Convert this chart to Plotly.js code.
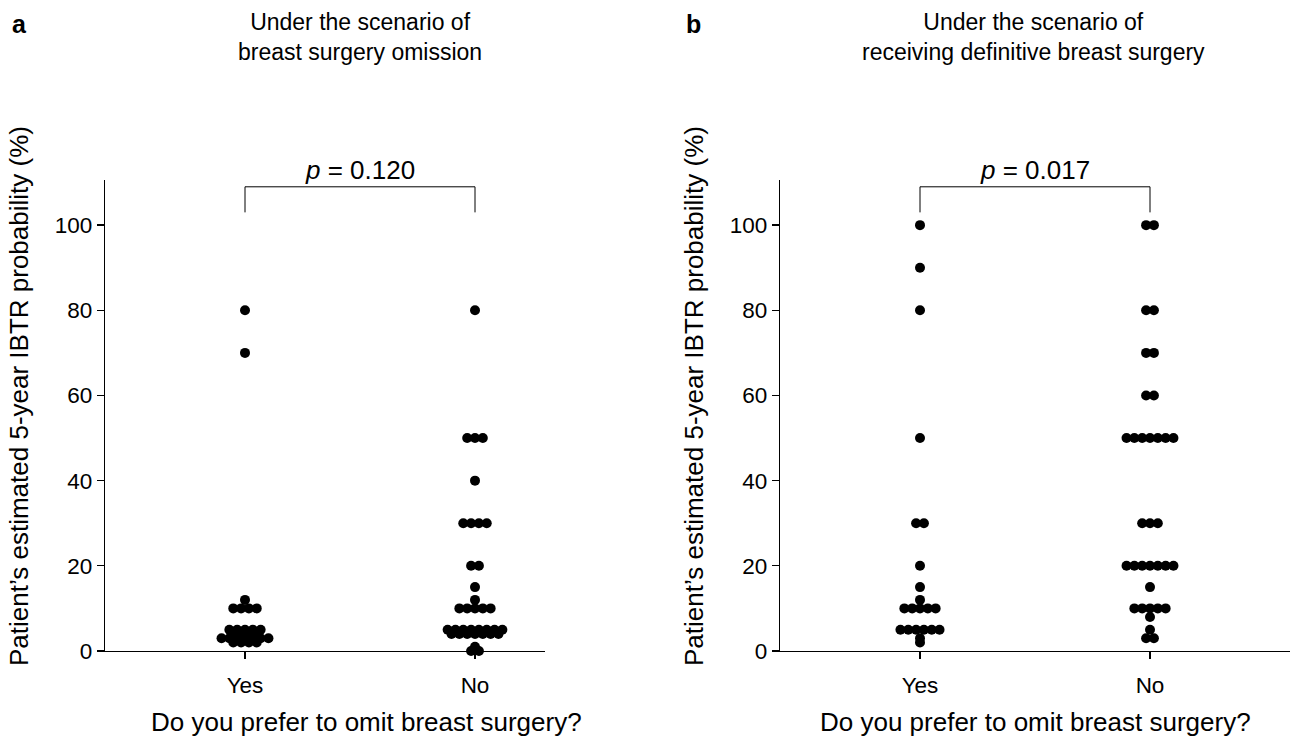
<!DOCTYPE html>
<html>
<head>
<meta charset="utf-8">
<script src="https://cdn.plot.ly/plotly-3.0.1.min.js"></script>
<style>html,body{margin:0;padding:0;background:#fff}</style>
</head>
<body>
<div id="chart" style="width:1291px;height:738px"></div>
<script>
// Categories and values (IBTR probability, %)
const categories = ["Yes", "No"];
const aYes = [80,70,12,10,10,10,10,5,5,5,5,5,4,4,4,4,3,3,3,3,3,3,3,2,2,2,2];
const aNo  = [80,50,50,50,40,30,30,30,30,20,20,15,12,10,10,10,10,10,
              5,5,5,5,5,5,5,5,4,4,4,4,4,4,4,1,0,0];
const bYes = [100,90,80,50,30,30,20,15,12,10,10,10,10,10,5,5,5,5,5,5,3,2];
const bNo  = [100,100,80,80,70,70,60,60,50,50,50,50,50,50,50,30,30,30,
              20,20,20,20,20,20,20,15,10,10,10,10,10,8,5,3,3];
const pA = "0.120", pB = "0.017";

const STEP = 0.034; // horizontal spacing of dots in x units
function swarm(vals, catIndex){
  const groups = {};
  vals.forEach(v => { (groups[v] = groups[v] || []).push(v); });
  const xs = [], ys = [];
  Object.keys(groups).forEach(k => {
    const n = groups[k].length;
    for (let i = 0; i < n; i++){
      xs.push(catIndex + (i - (n - 1) / 2) * STEP);
      ys.push(+k);
    }
  });
  return {x: xs, y: ys};
}
const mk = {color: "#000", size: 10, line: {width: 0}};
function tr(vals, ci, xa, ya){
  const s = swarm(vals, ci);
  return {type: "scatter", mode: "markers", x: s.x, y: s.y, xaxis: xa, yaxis: ya,
          marker: mk, cliponaxis: false, hoverinfo: "y", showlegend: false};
}
const data = [
  tr(aYes, 0, "x", "y"), tr(aNo, 1, "x", "y"),
  tr(bYes, 0, "x2", "y2"), tr(bNo, 1, "x2", "y2")
];

const FAM = "Liberation Sans, Arial, sans-serif";
const FONT = {family: FAM, size: 23, color: "#000"};
const TICKF = {family: FAM, size: 22.5, color: "#000"};
const BIGF = {family: FAM, size: 26, color: "#000"};
const yDom = [87/738, 558/738];
const yRange = [0, 110.6];
function yax(anchor){
  return {domain: yDom, range: yRange, anchor: anchor, showgrid: false, zeroline: false,
          showline: true, linecolor: "#000", linewidth: 1.3, ticks: "outside", ticklen: 7,
          tickwidth: 1.3, tickcolor: "#000", tickvals: [0,20,40,60,80,100],
          tickfont: TICKF, automargin: false, fixedrange: true};
}
function xax(dom, range, anchor){
  return {domain: dom, range: range, anchor: anchor, showgrid: false, zeroline: false,
          showline: true, linecolor: "#000", linewidth: 1.3, ticks: "outside", ticklen: 7,
          tickwidth: 1.3, tickcolor: "#000", tickvals: [0,1], ticktext: categories,
          ticklabelstandoff: 7,
          tickfont: TICKF, automargin: false, fixedrange: true};
}
const PX = 230; // pixels per category unit
const layout = {
  width: 1291, height: 738,
  margin: {l: 0, r: 0, t: 0, b: 0},
  paper_bgcolor: "#fff", plot_bgcolor: "#fff",
  font: FONT,
  xaxis: xax([105/1291, 545/1291], [-140/PX, 300/PX], "y"),
  yaxis: yax("x"),
  xaxis2: xax([780/1291, 1290/1291], [-140/PX, 370/PX], "y2"),
  yaxis2: yax("x2"),
  shapes: [
    {type: "path", xref: "x", yref: "y", path: "M0,103 L0,109 L1,109 L1,103",
     line: {color: "#000", width: 1}},
    {type: "path", xref: "x2", yref: "y2", path: "M0,103 L0,109 L1,109 L1,103",
     line: {color: "#000", width: 1}}
  ],
  annotations: [
    {xref: "x", yref: "y", x: 0.5, y: 109, yanchor: "bottom", yshift: 0, showarrow: false,
     text: "<i>p</i> = " + pA, font: BIGF},
    {xref: "x2", yref: "y2", x: 0.5, y: 109, yanchor: "bottom", yshift: 0, showarrow: false,
     text: "<i>p</i> = " + pB, font: BIGF},
    {xref: "paper", yref: "paper", x: 360/1291, xanchor: "center", y: 1 - 7/738, yanchor: "top", showarrow: false,
     text: "Under the scenario of<br>breast surgery omission", font: FONT},
    {xref: "paper", yref: "paper", x: 1033/1291, xanchor: "center", y: 1 - 7/738, yanchor: "top", showarrow: false,
     text: "Under the scenario of<br>receiving definitive breast surgery", font: FONT},
    {xref: "paper", yref: "paper", x: 10/1291, y: 1 - 8/738, xanchor: "left", yanchor: "top",
     showarrow: false, text: "<b>a</b>", font: Object.assign({}, FONT, {size: 25})},
    {xref: "paper", yref: "paper", x: 684/1291, y: 1 - 8/738, xanchor: "left", yanchor: "top",
     showarrow: false, text: "<b>b</b>", font: Object.assign({}, FONT, {size: 25})},
    {xref: "paper", yref: "paper", x: 367/1291, xanchor: "center", y: 1 - 722/738, yanchor: "middle", showarrow: false,
     text: "Do you prefer to omit breast surgery?", font: BIGF},
    {xref: "paper", yref: "paper", x: 1035/1291, xanchor: "center", y: 1 - 722/738, yanchor: "middle", showarrow: false,
     text: "Do you prefer to omit breast surgery?", font: BIGF},
    {xref: "paper", yref: "paper", x: 19/1291, xanchor: "center", y: 1 - 396/738, yanchor: "middle", textangle: -90, showarrow: false,
     text: "Patient’s estimated 5-year IBTR probability (%)", font: BIGF},
    {xref: "paper", yref: "paper", x: 694/1291, xanchor: "center", y: 1 - 396/738, yanchor: "middle", textangle: -90, showarrow: false,
     text: "Patient’s estimated 5-year IBTR probability (%)", font: BIGF}
  ]
};
Plotly.newPlot("chart", data, layout, {displayModeBar: false, staticPlot: true});
</script>
</body>
</html>
